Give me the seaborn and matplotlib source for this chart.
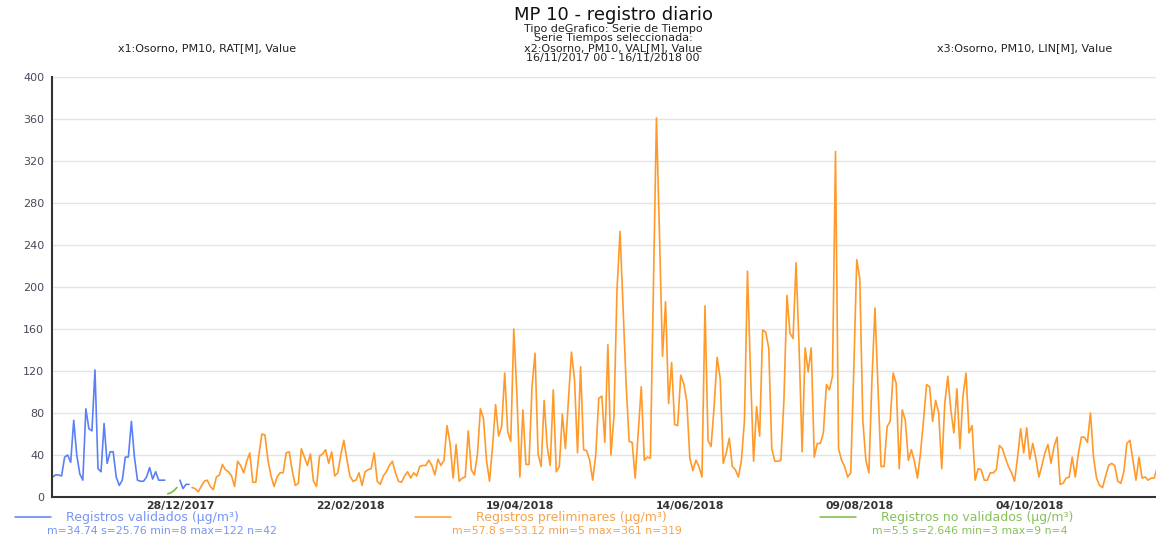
import numpy as np
import pandas as pd
import matplotlib
matplotlib.use("Agg")
import matplotlib.pyplot as plt
import matplotlib.dates as mdates
from matplotlib.lines import Line2D
import seaborn as sns

# registros diarios PM10 Osorno, 16/11/2017 -> 15/11/2018
INICIO = "2017-11-16"

# validados: dias 0-37 y 42-45
validados_1 = [19, 21, 21, 20, 38, 40, 33, 73, 40, 22,
               16, 84, 65, 63, 121, 27, 24, 70, 32, 43,
               43, 19, 11, 16, 38, 38, 72, 38, 16, 15,
               15, 19, 28, 17, 24, 16, 16, 16]
validados_2 = [16, 8, 12, 12]
# no validados: dias 38-41
no_validados = [3, 4, 6, 9]
# preliminares: dias 46-364
preliminares = [
    9, 8, 5, 10, 15, 16, 10, 7, 19, 21,
    31, 26, 24, 20, 10, 34, 30, 23, 34, 42,
    14, 14, 40, 60, 59, 35, 20, 10, 19, 23,
    23, 42, 43, 25, 11, 13, 46, 38, 30, 41,
    15, 10, 39, 41, 45, 32, 43, 20, 23, 40,
    54, 36, 20, 15, 16, 23, 11, 24, 26, 27,
    42, 15, 12, 20, 24, 30, 34, 23, 15, 14,
    20, 24, 18, 23, 20, 29, 30, 30, 35, 30,
    21, 36,
    30, 35, 68, 51, 18, 50, 15, 18, 19, 63,
    26, 21, 40, 84, 75, 35, 15, 48, 88, 58,
    67, 118, 62, 53, 160, 99, 19, 83, 31, 31,
    105, 137, 41, 29, 92, 48, 30, 102, 24, 29,
    79, 46, 92, 138, 112, 42,
    124, 45, 44, 35, 16, 40, 94, 96, 52, 145,
    40, 77, 197, 253, 181, 108, 53, 52, 18, 61,
    105, 35, 38, 37, 200, 361, 250, 134, 186, 89,
    128, 69, 68, 116, 108, 91, 37, 25, 35, 29,
    19, 182, 54, 48, 86, 133, 113, 32, 42, 56,
    29, 26, 19, 35, 73, 215, 118, 34, 86, 58,
    159, 157, 142, 46, 34, 34,
    35, 92, 192, 156, 151, 223, 143, 43, 142, 119,
    142, 38, 51, 51, 61, 107, 102, 115, 329, 46,
    35, 29, 19, 23, 118, 226, 208, 73, 35, 23,
    111, 180, 105, 29, 29, 67, 72, 118, 108, 27,
    83, 73, 35, 45, 34, 18, 42, 73, 107, 105,
    72, 92, 80, 27, 89, 115, 83, 61, 103, 46,
    96, 118, 61,
    68, 16, 27, 26, 16, 16, 23, 23, 26, 49,
    46, 37, 29, 23, 15, 38, 65, 42, 66, 36,
    51, 37, 19, 30, 42, 50, 32, 48, 57, 12,
    13, 18, 19, 38, 19, 41, 57, 57, 52, 80,
    38, 18, 11, 9, 20, 30, 32, 30, 15, 13,
    24, 51, 54, 35, 16, 38, 18, 19, 16, 18,
    18, 28,
]

SERIES = ["Registros validados (µg/m³)", "Registros preliminares (µg/m³)",
          "Registros no validados (µg/m³)"]
STATS = ["m=34.74 s=25.76 min=8 max=122 n=42",
         "m=57.8 s=53.12 min=5 max=361 n=319",
         "m=5.5 s=2.646 min=3 max=9 n=4"]
COLORS = ["#5b80f6", "#ff9a2a", "#7aba45"]
TEXT_COLORS = ["#7895f3", "#f7a34c", "#88c05a"]
TICK_DATES = ["2017-12-28", "2018-02-22", "2018-04-19", "2018-06-14",
              "2018-08-09", "2018-10-04"]


def _tramo(values, start_day, serie, tramo):
    fechas = pd.Timestamp(INICIO) + pd.to_timedelta(np.arange(len(values)) + start_day, unit="D")
    return pd.DataFrame({"fecha": fechas, "valor": values, "serie": serie, "tramo": tramo})


df = pd.concat([
    _tramo(validados_1, 0, SERIES[0], "v1"),
    _tramo(validados_2, 42, SERIES[0], "v2"),
    _tramo(no_validados, 38, SERIES[2], "n1"),
    _tramo(preliminares, 46, SERIES[1], "p1"),
], ignore_index=True)

sns.set_style("white")
plt.rcParams["font.family"] = ["DejaVu Sans"]

fig = plt.figure(figsize=(11.56, 5.36), dpi=100)
ax = fig.add_axes([0.0454, 0.0728, 0.9546, 0.7836])

sns.lineplot(data=df, x="fecha", y="valor", hue="serie", units="tramo", estimator=None,
             palette=dict(zip(SERIES, COLORS)), legend=False, lw=1.2, ax=ax)

ax.set_ylim(0, 400)
ax.set_yticks(np.arange(0, 401, 40))
x0 = pd.Timestamp(INICIO)
ax.set_xlim(x0, x0 + pd.Timedelta(days=363.6))
ax.set_xticks(pd.to_datetime(TICK_DATES))
ax.xaxis.set_major_formatter(mdates.DateFormatter("%d/%m/%Y"))
ax.set_xlabel("")
ax.set_ylabel("")

ax.grid(axis="y", color="#e4e4e4", lw=1)
ax.grid(axis="x", visible=False)
for s in ["top", "right"]:
    ax.spines[s].set_visible(False)
for s in ["left", "bottom"]:
    ax.spines[s].set_color("#333333")
    ax.spines[s].set_linewidth(1.5)
ax.tick_params(axis="y", length=5, width=1.2, color="#333333", labelsize=8,
               labelcolor="#46495a", pad=1)
ax.tick_params(axis="x", direction="inout", length=4, width=2.5, color="#444444",
               labelsize=7.8, labelcolor="#333333", pad=1)
for t in ax.get_xticklabels():
    t.set_fontweight("bold")

# cabecera
W, H = 1156, 536
fig.text(613 / W, 1 - 15 / H, "MP 10 - registro diario", ha="center", va="center",
         fontsize=13, color="#111111")
small = dict(ha="center", va="center", fontsize=8, color="#222222")
fig.text(613 / W, 1 - 28.5 / H, "Tipo deGrafico: Serie de Tiempo", **small)
fig.text(613 / W, 1 - 38.5 / H, "Serie Tiempos seleccionada:", **small)
fig.text(613 / W, 1 - 48.5 / H, "x2:Osorno, PM10, VAL[M], Value", **small)
fig.text(613 / W, 1 - 58.5 / H, "16/11/2017 00 - 16/11/2018 00", **small)
fig.text(207 / W, 1 - 48.5 / H, "x1:Osorno, PM10, RAT[M], Value", **small)
fig.text(1025 / W, 1 - 48.5 / H, "x3:Osorno, PM10, LIN[M], Value", **small)

# leyenda: una por serie, con estadisticos debajo
leg_x = [15, 415, 820]
leg_pad = [1.2, 2.0, 2.0]
stat_x = [162, 567, 970]
for i in range(3):
    h = Line2D([], [], color=COLORS[i], lw=1.1)
    leg = fig.legend([h], [SERIES[i]], loc="center left",
                     bbox_to_anchor=(leg_x[i] / W, 1 - 518 / H), frameon=False,
                     borderpad=0, borderaxespad=0, handlelength=2.9,
                     handletextpad=leg_pad[i], fontsize=9)
    for t in leg.get_texts():
        t.set_color(TEXT_COLORS[i])
    fig.text(stat_x[i] / W, 1 - 531 / H, STATS[i], ha="center", va="center",
             fontsize=7.8, color=TEXT_COLORS[i])

fig.savefig("out.png", dpi=100)
